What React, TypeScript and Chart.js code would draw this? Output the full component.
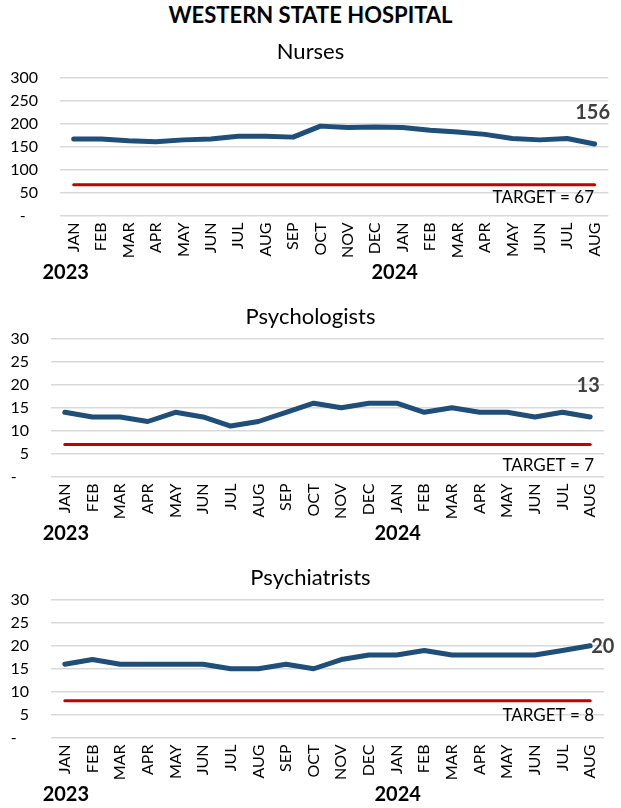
import React, { useEffect, useRef } from "react";
import { Chart, registerables } from "chart.js";

Chart.register(...registerables);

// ---------- data ----------
const MONTHS = ["JAN", "FEB", "MAR", "APR", "MAY", "JUN", "JUL", "AUG", "SEP", "OCT", "NOV", "DEC",
  "JAN", "FEB", "MAR", "APR", "MAY", "JUN", "JUL", "AUG"];
const YEARS = ["2023", "2024"];
const YEAR_START_INDEX = [0, 12];

const NURSES = [167, 167, 163, 161, 165, 167, 173, 173, 171, 195, 192, 193, 192, 186, 182, 177, 168, 165, 168, 156];
const NURSES_TARGET = [67, 67, 67, 67, 67, 67, 67, 67, 67, 67, 67, 67, 67, 67, 67, 67, 67, 67, 67, 67];
const PSYCHOLOGISTS = [14, 13, 13, 12, 14, 13, 11, 12, 14, 16, 15, 16, 16, 14, 15, 14, 14, 13, 14, 13];
const PSYCHOLOGISTS_TARGET = [7, 7, 7, 7, 7, 7, 7, 7, 7, 7, 7, 7, 7, 7, 7, 7, 7, 7, 7, 7];
const PSYCHIATRISTS = [16, 17, 16, 16, 16, 16, 15, 15, 16, 15, 17, 18, 18, 19, 18, 18, 18, 18, 19, 20];
const PSYCHIATRISTS_TARGET = [8, 8, 8, 8, 8, 8, 8, 8, 8, 8, 8, 8, 8, 8, 8, 8, 8, 8, 8, 8];

const NURSES_AXIS = { max: 300, step: 50 };
const PSYCH_AXIS = { max: 30, step: 5 };

const TITLE = "WESTERN STATE HOSPITAL";

// ---------- styles ----------
const FONT = "Lato";
const LINE_COLOR = "#1F4E79";
const TARGET_COLOR = "#C00000";
const GRID_COLOR = "#D9D9D9";
const TEXT_COLOR = "#000000";
const VALUE_COLOR = "#404040";

type PanelProps = {
  subtitle: string;
  values: number[];
  target: number[];
  axis: { max: number; step: number };
  top: number;
  yAxisWidth: number;
  padRight: number;
  valueLabelMode: "above" | "right";
  targetTextDy: number;
  yearDx: number;
  subtitleDy: number;
};

const panelPlugin = {
  id: "panelDecor",
  afterDraw(chart: any) {
    const o = chart.options.plugins.panelDecor;
    if (!o) return;
    const ctx = chart.ctx;
    const area = chart.chartArea;
    const xs = chart.scales.x;
    const ys = chart.scales.y;
    ctx.save();
    // subtitle
    ctx.fillStyle = TEXT_COLOR;
    ctx.font = `22px ${FONT}`;
    ctx.textAlign = "center";
    ctx.textBaseline = "middle";
    ctx.fillText(o.subtitle, chart.width / 2, area.top - o.subtitleDy);

    // year labels
    ctx.font = `bold 20px ${FONT}`;
    ctx.textAlign = "center";
    YEARS.forEach((y: string, i: number) => {
      const px = xs.getPixelForValue(YEAR_START_INDEX[i]) + o.yearDx;
      ctx.fillText(y, px, area.bottom + 57);
    });

    // target label
    const tv = o.target[o.target.length - 1];
    const ty = ys.getPixelForValue(tv);
    ctx.font = `17px ${FONT}`;
    ctx.textAlign = "right";
    ctx.fillText(`TARGET = ${tv}`, 594, ty + o.targetTextDy);

    // last value label
    const last = o.values.length - 1;
    const lv = o.values[last];
    const lx = xs.getPixelForValue(last);
    const ly = ys.getPixelForValue(lv);
    ctx.font = `bold 20px ${FONT}`;
    ctx.fillStyle = VALUE_COLOR;
    if (o.valueLabelMode === "above") {
      ctx.textAlign = "center";
      ctx.fillText(String(lv), lx - 2, ly - 31);
    } else {
      ctx.textAlign = "left";
      ctx.fillText(String(lv), lx + 1, ly + 1);
    }
    ctx.restore();
  },
};

function Panel(p: PanelProps) {
  const ref = useRef<HTMLCanvasElement | null>(null);
  useEffect(() => {
    if (!ref.current) return;
    const chart = new Chart(ref.current, {
      type: "line",
      data: {
        labels: MONTHS,
        datasets: [
          {
            data: p.target,
            borderColor: TARGET_COLOR,
            borderWidth: 3,
            pointRadius: 0,
            tension: 0,
            borderCapStyle: "round",
          },
          {
            data: p.values,
            borderColor: LINE_COLOR,
            borderWidth: 5,
            pointRadius: 0,
            tension: 0,
            borderCapStyle: "round",
            borderJoinStyle: "round",
          },
        ],
      },
      options: {
        animation: false,
        responsive: false,
        devicePixelRatio: 1,
        events: [],
        layout: { padding: { left: 10, right: p.padRight, top: 48, bottom: 19.5 } },
        plugins: {
          legend: { display: false },
          tooltip: { enabled: false },
          title: { display: false },
          panelDecor: {
            subtitle: p.subtitle,
            values: p.values,
            target: p.target,
            valueLabelMode: p.valueLabelMode,
            targetTextDy: p.targetTextDy,
            yearDx: p.yearDx,
            subtitleDy: p.subtitleDy,
          },
        } as any,
        scales: {
          x: {
            type: "category",
            offset: true,
            grid: { display: false, drawTicks: false },
            border: { display: false },
            ticks: {
              autoSkip: false,
              maxRotation: 90,
              minRotation: 90,
              padding: 7,
              color: TEXT_COLOR,
              font: { family: FONT, size: 16 },
            },
            afterFit: (s: any) => {
              s.height = 50;
            },
          },
          y: {
            min: 0,
            max: p.axis.max,
            grid: { color: GRID_COLOR, lineWidth: 1.5, drawTicks: false },
            border: { display: false },
            ticks: {
              stepSize: p.axis.step,
              padding: 22,
              color: TEXT_COLOR,
              font: { family: FONT, size: 16 },
              callback: (v: any) => (Number(v) === 0 ? "-   " : String(v)),
            },
            afterFit: (s: any) => {
              s.width = p.yAxisWidth;
            },
          },
        },
      },
      plugins: [panelPlugin],
    } as any);
    return () => chart.destroy();
  }, []);
  return (
    <canvas
      ref={ref}
      width={621}
      height={255}
      style={{ position: "absolute", left: 0, top: p.top, width: 621, height: 255 }}
    />
  );
}

export default function App() {
  return (
    <div
      style={{
        position: "absolute",
        left: 0,
        top: 0,
        width: 621,
        height: 808,
        background: "#ffffff",
        overflow: "hidden",
      }}
    >
      <div
        style={{
          position: "absolute",
          left: 0,
          top: 0,
          width: 621,
          height: 30,
          lineHeight: "30px",
          textAlign: "center",
          fontFamily: FONT,
          fontWeight: "bold",
          fontSize: 22,
          color: TEXT_COLOR,
        }}
      >
        {TITLE}
      </div>
      <Panel
        subtitle="Nurses"
        values={NURSES}
        target={NURSES_TARGET}
        axis={NURSES_AXIS}
        top={30}
        yAxisWidth={50}
        padRight={8}
        valueLabelMode="above"
        targetTextDy={13}
        yearDx={-8}
        subtitleDy={26}
      />
      <Panel
        subtitle="Psychologists"
        values={PSYCHOLOGISTS}
        target={PSYCHOLOGISTS_TARGET}
        axis={PSYCH_AXIS}
        top={291}
        yAxisWidth={41}
        padRight={17}
        valueLabelMode="above"
        targetTextDy={21}
        yearDx={1}
        subtitleDy={22}
      />
      <Panel
        subtitle="Psychiatrists"
        values={PSYCHIATRISTS}
        target={PSYCHIATRISTS_TARGET}
        axis={PSYCH_AXIS}
        top={552}
        yAxisWidth={41}
        padRight={17}
        valueLabelMode="right"
        targetTextDy={15}
        yearDx={1}
        subtitleDy={22}
      />
    </div>
  );
}
